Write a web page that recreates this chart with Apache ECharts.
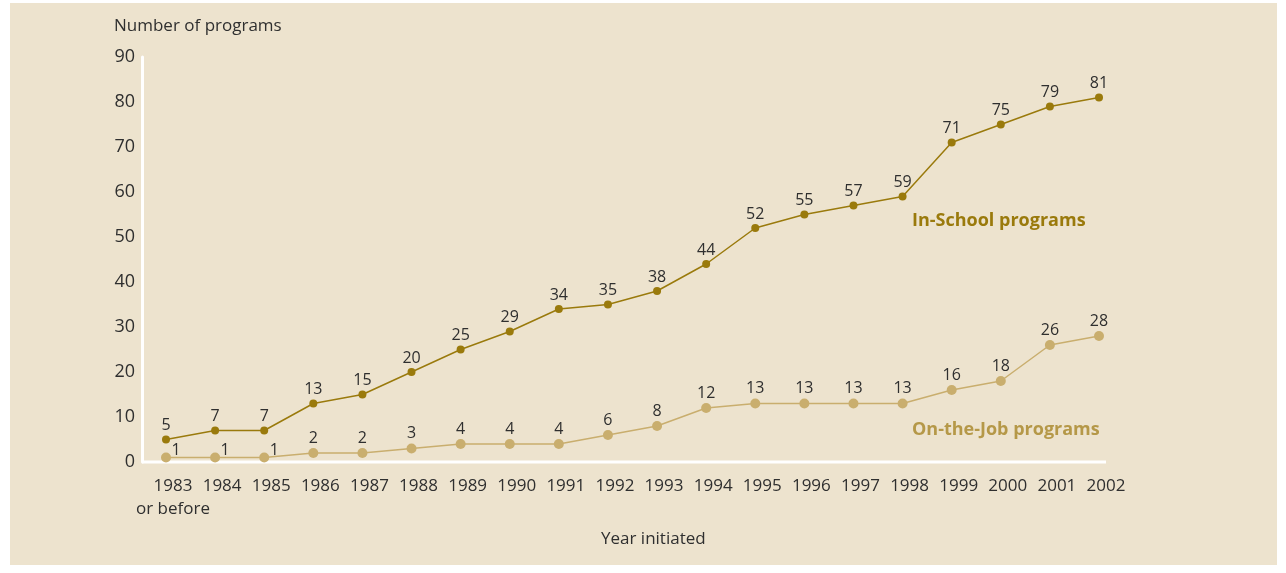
<!DOCTYPE html>
<html>
<head>
<meta charset="utf-8">
<script src="https://cdn.jsdelivr.net/npm/echarts@6/dist/echarts.min.js"></script>
<style>
html,body{margin:0;padding:0;background:#ffffff;}
#chart{width:1286px;height:573px;}
</style>
</head>
<body>
<div id="chart"></div>
<script>
const categories = ['1983\nor before','1984','1985','1986','1987','1988','1989','1990','1991','1992','1993','1994','1995','1996','1997','1998','1999','2000','2001','2002'];
const inSchool = [5,7,7,13,15,20,25,29,34,35,38,44,52,55,57,59,71,75,79,81];
const onJob = [1,1,1,2,2,3,4,4,4,6,8,12,13,13,13,13,16,18,26,28];
const yTicks = {min:0, max:90, interval:10};

const FONT = '"Open Sans", "Liberation Sans", sans-serif';
const DARK = '#9a7a0c';
const LIGHT = '#c9ae6e';
const LIGHT_TEXT = '#b59848';
const TXT = '#2f2f2f';

const gridLeft = 166, gridRight = 187, gridTop = 57, gridBottom = 111;

const chart = echarts.init(document.getElementById('chart'), null, {renderer:'canvas'});

const onJobData = onJob.map((v,i) => i < 3 ? {value:v, label:{offset:[10,8]}} : v);

chart.setOption({
  animation:false,
  backgroundColor:'#ffffff',
  textStyle:{fontFamily:FONT},
  grid:{left:gridLeft, right:gridRight, top:gridTop, bottom:gridBottom, containLabel:false},
  xAxis:{
    type:'category',
    data:categories,
    boundaryGap:false,
    axisLine:{show:false},
    axisTick:{show:false},
    splitLine:{show:false},
    axisLabel:{color:TXT, fontSize:17, fontFamily:FONT, margin:13, lineHeight:23, padding:[0,0,0,14], interval:0}
  },
  yAxis:{
    type:'value',
    min:yTicks.min, max:yTicks.max, interval:yTicks.interval,
    offset:24,
    axisLine:{show:true, lineStyle:{color:'#ffffff', width:3}},
    axisTick:{show:false},
    splitLine:{show:false},
    axisLabel:{color:TXT, fontSize:18, fontFamily:FONT, margin:7}
  },
  series:[
    {
      name:'On-the-Job programs',
      type:'line',
      data:onJobData,
      symbol:'circle',
      symbolSize:10,
      itemStyle:{color:LIGHT},
      lineStyle:{color:LIGHT, width:1.5},
      label:{show:true, position:'top', distance:2, color:TXT, fontSize:16, fontFamily:FONT},
      z:3
    },
    {
      name:'In-School programs',
      type:'line',
      data:inSchool,
      symbol:'circle',
      symbolSize:8,
      itemStyle:{color:DARK},
      lineStyle:{color:DARK, width:1.5},
      label:{show:true, position:'top', distance:2, color:TXT, fontSize:16, fontFamily:FONT},
      z:4
    }
  ]
});

const y0 = chart.convertToPixel({yAxisIndex:0}, 0);
const xStart = gridLeft - 24;
const xEnd = 1286 - gridRight + 7;

chart.setOption({
  graphic:[
    {type:'rect', z:-10, zlevel:0, silent:true, shape:{x:10, y:3, width:1267, height:562}, style:{fill:'#ede3ce'}},
    {type:'line', z:1, silent:true, shape:{x1:xStart, y1:y0, x2:xEnd, y2:y0}, style:{stroke:'#ffffff', lineWidth:3}},
    {type:'text', left:114, top:18, silent:true, style:{text:'Number of programs', fill:TXT, font:'17px ' + FONT}},
    {type:'text', left:601, top:531, silent:true, style:{text:'Year initiated', fill:TXT, font:'17px ' + FONT}},
    {type:'text', left:912, top:212, silent:true, style:{text:'In-School programs', fill:DARK, font:'bold 18px ' + FONT}},
    {type:'text', left:912, top:421, silent:true, style:{text:'On-the-Job programs', fill:LIGHT_TEXT, font:'bold 18px ' + FONT}}
  ]
});
</script>
</body>
</html>
